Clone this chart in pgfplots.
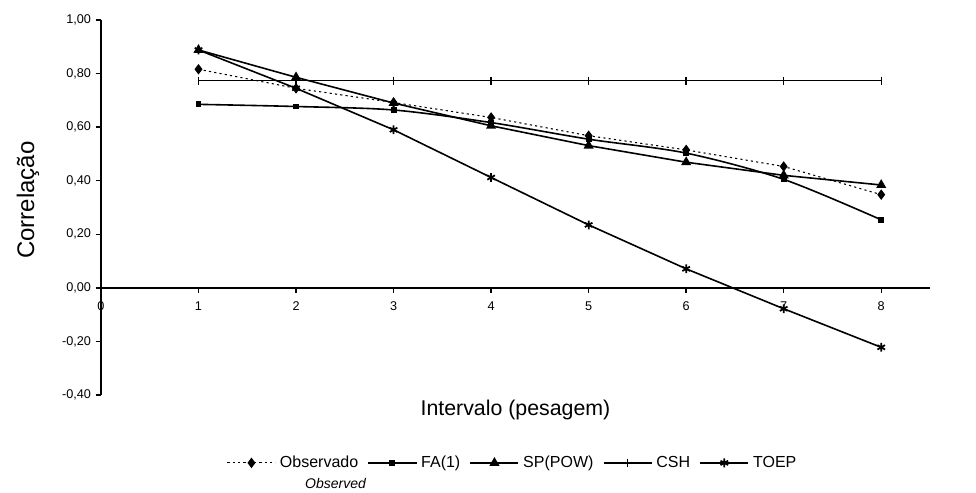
\documentclass[border=0pt]{standalone}
\usepackage{fontspec}
\setmainfont{Liberation Sans}
\usepackage{pgfplots}
\pgfplotsset{compat=1.18}
\begin{document}
\begin{tikzpicture}
\begin{axis}[
  scale only axis, width=621.75pt, height=281.25pt,
  xmin=0, xmax=8.5, ymin=-0.4, ymax=1.0,
  axis x line=middle, axis y line=left,
  axis line style={-, line width=1.1pt},
  hide obscured x ticks=false,
  xtick={0,1,2,3,4,5,6,7,8},
  ytick={-0.4,-0.2,0,0.2,0.4,0.6,0.8,1.0},
  tick align=outside,
  major tick length=4pt,
  tick style={line width=1pt, black},
  /pgf/number format/assume math mode=true,
  tick label style={font=\fontsize{9.5}{11}\selectfont},
  y tick label style={/pgf/number format/.cd, fixed, fixed zerofill, precision=2, use comma},
  xticklabel style={anchor=north, yshift=-3pt},
  clip=false,
  xlabel={Intervalo (pesagem)},
  ylabel={Correlação},
  every axis x label/.style={at={(rel axis cs:0.5,-0.04)}, anchor=center, font=\fontsize{16}{18}\selectfont},
  every axis y label/.style={at={(rel axis cs:-0.088,0.52)}, rotate=90, anchor=center, font=\fontsize{18}{20}\selectfont},
  legend columns=-1,
  legend style={at={(rel axis cs:0.497,-0.181)}, anchor=center, draw=none, fill=none,
    font=\fontsize{12}{14}\selectfont,
    /tikz/every even column/.append style={column sep=5pt},
    /tikz/every odd column/.append style={column sep=1pt}},
  legend image code/.code={\draw[mark repeat=2,mark phase=2,#1] plot coordinates {(0pt,0pt) (18pt,0pt) (36pt,0pt)};},
]
\addplot[black, line width=0.8pt, dash pattern=on 1.6pt off 2.4pt, mark=diamond*, mark size=3.3pt, mark options={solid}]
  coordinates {(1,0.816)(2,0.745)(3,0.692)(4,0.636)(5,0.568)(6,0.515)(7,0.453)(8,0.348)};
\addlegendentry{Observado}
\addplot[black, line width=1.2pt, smooth, tension=0.5, mark=square*, mark size=1.6pt, mark options={solid}]
  coordinates {(1,0.685)(2,0.677)(3,0.664)(4,0.617)(5,0.555)(6,0.503)(7,0.405)(8,0.254)};
\addlegendentry{FA(1)}
\addplot[black, line width=1.2pt, mark=triangle*, mark size=3.2pt, mark options={solid}]
  coordinates {(1,0.888)(2,0.786)(3,0.690)(4,0.605)(5,0.531)(6,0.469)(7,0.420)(8,0.384)};
\addlegendentry{SP(POW)}
\addplot[black, line width=1.2pt, mark=|, mark size=3pt, mark options={solid, line width=1pt}]
  coordinates {(1,0.774)(2,0.774)(3,0.774)(4,0.774)(5,0.774)(6,0.774)(7,0.774)(8,0.774)};
\addlegendentry{CSH}
\addplot[black, line width=1.2pt, mark=asterisk, mark size=3.3pt, mark options={solid, line width=1.3pt}]
  coordinates {(1,0.888)(2,0.745)(3,0.590)(4,0.412)(5,0.235)(6,0.071)(7,-0.078)(8,-0.222)};
\addlegendentry{TOEP}
\node[font=\itshape\fontsize{10.5}{12}\selectfont] at (rel axis cs:0.283,-0.235) {Observed};
\path (rel axis cs:-0.1218,-0.2613) rectangle (rel axis cs:1.0555,1.0533);
\end{axis}
\end{tikzpicture}
\end{document}
